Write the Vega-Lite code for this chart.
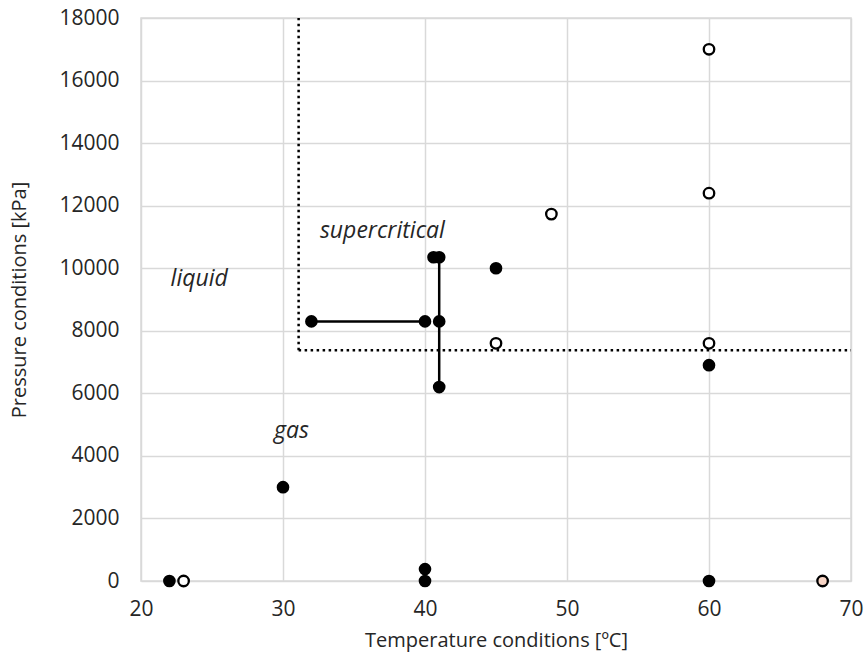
{
  "$schema": "https://vega.github.io/schema/vega-lite/v6.json",
  "width": 710,
  "height": 563,
  "autosize": {"type": "none"},
  "padding": {"left": 141, "top": 18, "right": 15, "bottom": 84},
  "background": "white",
  "config": {
    "view": {"stroke": "#d9d9d9", "strokeWidth": 1.5},
    "font": "Open Sans",
    "axis": {
      "grid": true, "gridColor": "#d9d9d9", "gridWidth": 1.5,
      "domain": false, "ticks": false, "labelFlush": false, "labelOverlap": false,
      "labelFont": "Open Sans", "labelFontSize": 21, "labelColor": "#262626",
      "titleFont": "Open Sans", "titleFontSize": 20, "titleFontWeight": "normal", "titleColor": "#262626"
    }
  },
  "datasets": {
    "points": [
      {"temp": 22, "pressure": 0, "kind": "filled"},
      {"temp": 23, "pressure": 0, "kind": "open"},
      {"temp": 30, "pressure": 3000, "kind": "filled"},
      {"temp": 32, "pressure": 8300, "kind": "filled"},
      {"temp": 40, "pressure": 8300, "kind": "filled"},
      {"temp": 41, "pressure": 8300, "kind": "filled"},
      {"temp": 41, "pressure": 6200, "kind": "filled"},
      {"temp": 40.6, "pressure": 10350, "kind": "filled"},
      {"temp": 41, "pressure": 10350, "kind": "filled"},
      {"temp": 45, "pressure": 10000, "kind": "filled"},
      {"temp": 45, "pressure": 7600, "kind": "open"},
      {"temp": 48.9, "pressure": 11730, "kind": "open"},
      {"temp": 60, "pressure": 17000, "kind": "open"},
      {"temp": 60, "pressure": 12400, "kind": "open"},
      {"temp": 60, "pressure": 7600, "kind": "open"},
      {"temp": 60, "pressure": 6900, "kind": "filled"},
      {"temp": 60, "pressure": 0, "kind": "filled"},
      {"temp": 40, "pressure": 0, "kind": "filled"},
      {"temp": 40, "pressure": 380, "kind": "filled"},
      {"temp": 68, "pressure": 0, "kind": "pink"}
    ],
    "phase": [
      {"t1": 31.1, "p1": 7380, "t2": 31.1, "p2": 18000},
      {"t1": 31.1, "p1": 7380, "t2": 70, "p2": 7380}
    ],
    "paths": [
      {"t1": 32, "p1": 8300, "t2": 40, "p2": 8300},
      {"t1": 41, "p1": 6200, "t2": 41, "p2": 10350}
    ],
    "labels": [
      {"t": 24.1, "p": 9650, "label": "liquid"},
      {"t": 37.0, "p": 11190, "label": "supercritical"},
      {"t": 30.6, "p": 4800, "label": "gas"}
    ]
  },
  "layer": [
    {
      "data": {"name": "phase"},
      "mark": {"type": "rule", "color": "#000000", "strokeWidth": 2.5, "strokeDash": [2.5, 3.5]},
      "encoding": {
        "x": {"field": "t1", "type": "quantitative", "scale": {"domain": [20, 70], "nice": false},
              "axis": {"values": [20, 30, 40, 50, 60, 70], "labelPadding": 17, "titlePadding": 11},
              "title": "Temperature conditions [ºC]"},
        "y": {"field": "p1", "type": "quantitative", "scale": {"domain": [0, 18000], "nice": false},
              "axis": {"values": [0, 2000, 4000, 6000, 8000, 10000, 12000, 14000, 16000, 18000], "labelPadding": 22, "titlePadding": 29, "format": "d"},
              "title": "Pressure conditions [kPa]"},
        "x2": {"field": "t2"},
        "y2": {"field": "p2"}
      }
    },
    {
      "data": {"name": "paths"},
      "mark": {"type": "rule", "color": "#000000", "strokeWidth": 2.5},
      "encoding": {
        "x": {"field": "t1", "type": "quantitative"},
        "y": {"field": "p1", "type": "quantitative"},
        "x2": {"field": "t2"},
        "y2": {"field": "p2"}
      }
    },
    {
      "data": {"name": "points"},
      "transform": [{"filter": "datum.kind === 'filled'"}],
      "mark": {"type": "point", "shape": "circle", "filled": true, "color": "#000000", "size": 160, "opacity": 1},
      "encoding": {
        "x": {"field": "temp", "type": "quantitative"},
        "y": {"field": "pressure", "type": "quantitative"}
      }
    },
    {
      "data": {"name": "points"},
      "transform": [{"filter": "datum.kind !== 'filled'"}],
      "mark": {"type": "point", "shape": "circle", "stroke": "#000000", "strokeWidth": 2.3, "size": 110, "opacity": 1},
      "encoding": {
        "x": {"field": "temp", "type": "quantitative"},
        "y": {"field": "pressure", "type": "quantitative"},
        "fill": {"field": "kind", "type": "nominal", "scale": {"domain": ["open", "pink"], "range": ["#ffffff", "#f8d5c6"]}, "legend": null}
      }
    },
    {
      "data": {"name": "labels"},
      "mark": {"type": "text", "font": "Open Sans", "fontStyle": "italic", "fontSize": 23, "color": "#262626", "align": "center", "baseline": "middle"},
      "encoding": {
        "x": {"field": "t", "type": "quantitative"},
        "y": {"field": "p", "type": "quantitative"},
        "text": {"field": "label"}
      }
    }
  ]
}
